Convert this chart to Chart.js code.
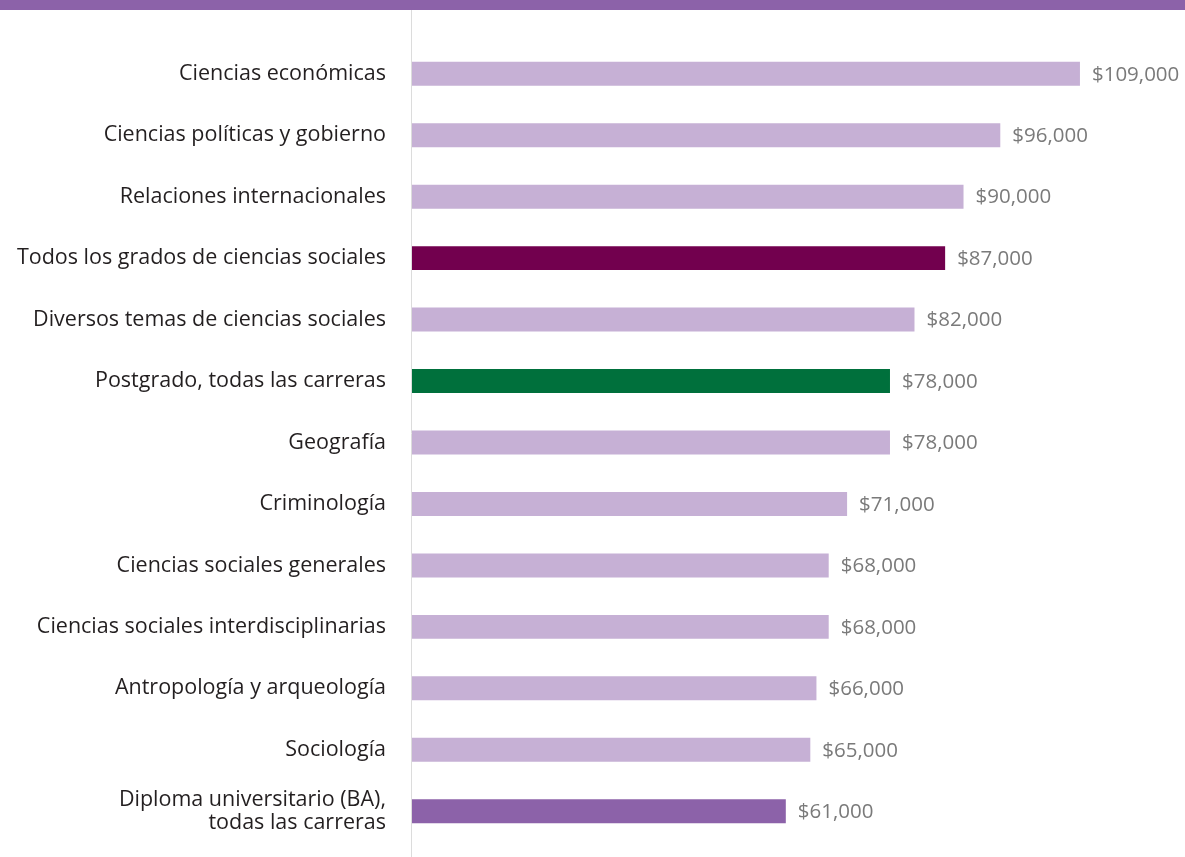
<!DOCTYPE html>
<html>
<head>
<meta charset="utf-8">
<script src="https://cdn.jsdelivr.net/npm/chart.js@4"></script>
<style>
  html, body { margin: 0; padding: 0; background: #fff; }
  #wrap { width: 1185px; height: 857px; position: relative; }
</style>
</head>
<body>
<div id="wrap"><canvas id="salaries"></canvas></div>
<script>
// categories, top to bottom
const carreras = [
    "Ciencias económicas",
    "Ciencias políticas y gobierno",
    "Relaciones internacionales",
    "Todos los grados de ciencias sociales",
    "Diversos temas de ciencias sociales",
    "Postgrado, todas las carreras",
    "Geografía",
    "Criminología",
    "Ciencias sociales generales",
    "Ciencias sociales interdisciplinarias",
    "Antropología y arqueología",
    "Sociología",
    ["Diploma universitario (BA),", "todas las carreras"]
];
// median salary per category (USD)
const salarios = [109000, 96000, 90000, 87000, 82000, 78000, 78000, 71000, 68000, 68000, 66000, 65000, 61000];

// bar colours: highlighted rows differ
const colores = carreras.map((c, i) => {
    if (i === 3) return "#72004e";
    if (i === 5) return "#00703c";
    if (i === 12) return "#8c62a9";
    return "#c6b0d5";
});

const fontFam = "'Open Sans', sans-serif";

// purple stripe on top + long vertical axis line
const decoPlugin = {
    id: "deco",
    beforeDraw(chart) {
        const ctx = chart.ctx;
        ctx.save();
        ctx.fillStyle = "#8c62a9";
        ctx.fillRect(0, 0, chart.width, 10);
        const x0 = Math.round(chart.scales.x.getPixelForValue(0)) - 0.5;
        ctx.strokeStyle = "#dcdcdc";
        ctx.lineWidth = 1;
        ctx.beginPath();
        ctx.moveTo(x0, 10);
        ctx.lineTo(x0, chart.height);
        ctx.stroke();
        ctx.restore();
    }
};

// value labels at the end of each bar
const valuePlugin = {
    id: "values",
    afterDatasetsDraw(chart) {
        const ctx = chart.ctx;
        const meta = chart.getDatasetMeta(0);
        ctx.save();
        ctx.fillStyle = "#7a7a7a";
        ctx.font = "20.5px " + fontFam;
        ctx.textAlign = "left";
        ctx.textBaseline = "middle";
        meta.data.forEach((bar, i) => {
            ctx.fillText("$" + salarios[i].toLocaleString("en-US"), bar.x + 12, bar.y + 1);
        });
        ctx.restore();
    }
};

const config = {
    type: "bar",
    data: {
        labels: carreras,
        datasets: [{
            data: salarios,
            backgroundColor: colores,
            borderWidth: 0,
            categoryPercentage: 1,
            barPercentage: 0.39
        }]
    },
    options: {
        indexAxis: "y",
        responsive: true,
        maintainAspectRatio: false,
        animation: false,
        layout: {
            padding: { top: 43, bottom: 15, right: 7, left: 0 }
        },
        plugins: {
            legend: { display: false },
            tooltip: { enabled: false }
        },
        scales: {
            x: {
                display: false,
                min: 0,
                max: 125000
            },
            y: {
                afterFit(scale) {
                    scale.width = 412;
                    scale.paddingTop = 0;
                    scale.paddingBottom = 0;
                },
                grid: { display: false, drawTicks: false },
                border: { display: false },
                ticks: {
                    color: "#231f20",
                    padding: 26,
                    font: { family: fontFam, size: 21.5, lineHeight: 1.1 }
                }
            }
        }
    },
    plugins: [decoPlugin, valuePlugin]
};

new Chart(document.getElementById("salaries").getContext("2d"), config);
</script>
</body>
</html>
